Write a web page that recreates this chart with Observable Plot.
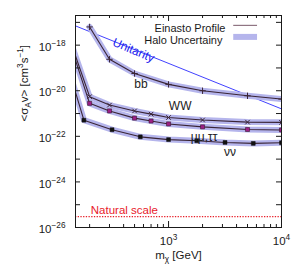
<!DOCTYPE html>
<html><head><meta charset="utf-8">
<script src="https://cdn.jsdelivr.net/npm/d3@7"></script>
<script src="https://cdn.jsdelivr.net/npm/@observablehq/plot@0.6"></script>
<style>html,body{margin:0;padding:0;background:#fff}svg{display:block}</style>
</head><body><div id="chart"></div>
<script>
// ---- data ----
const bbMass = [200, 300, 500, 1000, 2000, 5000, 10000];
const bbSigma = [6.3e-18, 2.4e-19, 5.7e-20, 1.9e-20, 1.0e-20, 6.0e-21, 4.3e-21];
const wwMass = [100, 200, 300, 500, 700, 1000, 2000, 5000, 10000];
const wwSigma = [1.1e-16, 5.5e-21, 2.35e-21, 1.3e-21, 9.4e-22, 6.7e-22, 5.2e-22, 4.2e-22, 4.1e-22];
const mumuMass = [100, 200, 300, 500, 700, 1000, 2000, 5000, 10000];
const mumuSigma = [1.0e-16, 2.8e-21, 1.3e-21, 6.3e-22, 4.7e-22, 3.5e-22, 2.6e-22, 2.0e-22, 1.9e-22];
const nunuMass = [100, 178, 316, 562, 1000, 1778, 3162, 5623, 10000];
const nunuSigma = [7e-18, 5.1e-22, 1.95e-22, 9.5e-23, 7.2e-23, 6.4e-23, 5.4e-23, 4.9e-23, 5.2e-23];
const unitarityMass = [150, 10000];
const unitaritySigma = [7e-18, 1.6e-21];
const naturalSigma = [3e-26];
const channelNames = ["bb", "WW", "mumu", "nunu"];
const yLabelTicks = [1e-18, 1e-20, 1e-22, 1e-24, 1e-26];
const yDecades = [1e-17, 1e-18, 1e-19, 1e-20, 1e-21, 1e-22, 1e-23, 1e-24, 1e-25, 1e-26];
const xLabelTicks = [1000, 10000];
const xMinor = [200, 300, 400, 500, 600, 700, 800, 900, 2000, 3000, 4000, 5000, 6000, 7000, 8000, 9000];
const legendLabels = ["Einasto Profile", "Halo Uncertainy"];

// ---- build tables ----
const massSets = [bbMass, wwMass, mumuMass, nunuMass];
const sigmaSets = [bbSigma, wwSigma, mumuSigma, nunuSigma];
const rows = channelNames.flatMap((ch, k) => massSets[k].map((m, i) => ({ch, m, s: sigmaSets[k][i]})));
const unitRows = unitarityMass.map((m, i) => ({m, s: unitaritySigma[i]}));
const of = ch => rows.filter(r => r.ch === ch);

const W = 299, H = 279;
const mt = 15, mr = 18, mb = 52, ml = 75;
const pw = W - ml - mr, ph = H - mt - mb;
const lineColor = "#3a2535";
const bandColor = "#b5b5ec";
const ink = "#1a1a1a";
const sup = d => "10^{" + String(Math.round(Math.log10(d))).replace("-", "\u2212") + "}";

const plot = Plot.plot({
  width: W, height: H,
  marginTop: mt, marginRight: mr, marginBottom: mb, marginLeft: ml,
  style: {fontFamily: "'Liberation Sans', Arial, sans-serif", fontSize: "11.5px", background: "#fff", color: ink},
  x: {type: "log", domain: [150, 10000]},
  y: {type: "log", domain: [1e-26, 2e-17]},
  marks: [
    Plot.ruleY(naturalSigma, {y: d => d, stroke: "#e8202a", strokeWidth: 1.3, strokeDasharray: "1.3,1.4"}),
    Plot.line(unitRows, {x: "m", y: "s", stroke: "#2b2bff", strokeWidth: 0.9, clip: true}),
    Plot.line(rows, {x: "m", y: "s", z: "ch", stroke: bandColor, strokeWidth: 6, strokeLinejoin: "round", clip: true}),
    Plot.line(rows, {x: "m", y: "s", z: "ch", stroke: lineColor, strokeWidth: 1.1, clip: true}),
    Plot.dot(of("bb"), {x: "m", y: "s", symbol: "plus", r: 2.2, stroke: lineColor, strokeWidth: 1, clip: true}),
    Plot.dot(of("WW"), {x: "m", y: "s", symbol: "times", r: 2.2, stroke: lineColor, strokeWidth: 1, clip: true}),
    Plot.dot(of("mumu"), {x: "m", y: "s", symbol: "square", r: 2.3, fill: "#9c1f86", stroke: "#3a1a30", strokeWidth: 0.6, clip: true}),
    Plot.dot(of("nunu"), {x: "m", y: "s", symbol: "square", r: 2.2, fill: "#111", stroke: "#111", strokeWidth: 0.5, clip: true}),
    // series labels
    Plot.text(["bb"], {x: 569, y: 1.9e-20, text: d => d, fill: "#222", fontSize: 12}),
    Plot.text(["WW"], {x: 1268, y: 2.2e-21, text: d => d, fill: "#222", fontSize: 12}),
    Plot.text(["\u03bc\u03bc,\u03c4\u03c4"], {x: 2066, y: 9.5e-23, text: d => d, fill: "#222", fontSize: 12}),
    Plot.text(["\u03bd\u03bd"], {x: 3500, y: 2.0e-23, text: d => d, fill: "#222", fontSize: 12}),
    Plot.text(["Unitarity"], {x: 489, y: 6e-19, text: d => d, fill: "#2222ee", fontSize: 12, rotate: 23}),
    Plot.text(["Natural scale"], {x: 406, y: 5.6e-26, text: d => d, fill: "#e8202a", fontSize: 11.5}),
    // legend
    Plot.text([legendLabels[0]], {frameAnchor: "top-right", dx: -56, dy: 9, textAnchor: "end", text: d => d, fill: ink, fontSize: 11}),
    Plot.text([legendLabels[1]], {frameAnchor: "top-right", dx: -59, dy: 20.7, textAnchor: "end", text: d => d, fill: ink, fontSize: 11}),
    Plot.ruleY([7.4e-18], {y: d => d, x1: 3776, x2: 6136, stroke: "#7a5a6a", strokeWidth: 1}),
    Plot.ruleY([2.3e-18], {y: d => d, x1: 3776, x2: 6136, stroke: bandColor, strokeWidth: 6}),
    // inward ticks
    Plot.tickY(yDecades, {y: d => d, insetRight: pw - 5, stroke: ink}),
    Plot.tickY(yDecades, {y: d => d, insetLeft: pw - 5, stroke: ink}),
    Plot.tickX(xMinor, {x: d => d, insetTop: ph - 3, stroke: ink}),
    Plot.tickX(xMinor, {x: d => d, insetBottom: ph - 3, stroke: ink}),
    Plot.tickX(xLabelTicks, {x: d => d, insetTop: ph - 6, stroke: ink}),
    Plot.tickX(xLabelTicks, {x: d => d, insetBottom: ph - 6, stroke: ink}),
    Plot.frame({stroke: ink, strokeWidth: 1}),
    Plot.axisY({ticks: yLabelTicks, tickSize: 0, tickPadding: 10, tickFormat: sup, label: null, fontSize: 11.5, dy: 2}),
    Plot.axisX({ticks: xLabelTicks, tickSize: 0, tickPadding: 9, tickFormat: sup, label: null, fontSize: 11.5}),
    Plot.text(["m_{\u03c7} [GeV]"], {frameAnchor: "bottom", dy: 31, text: d => d, fill: ink, fontSize: 11.5}),
    Plot.text(["<\u03c3_{A}v> [cm^{3}s^{\u22121}]"], {frameAnchor: "left", dx: -51, rotate: -90, text: d => d, fill: ink, fontSize: 11.5})
  ]
});

// render ^{...} and _{...} as super/subscripts
function richify(svg) {
  d3.select(svg).selectAll("text").each(function() {
    const s = this.textContent;
    if (!/[\^_]\{/.test(s)) return;
    const fs = parseFloat(this.getAttribute("font-size")) || parseFloat(getComputedStyle(this).fontSize) || 11.5;
    const parts = [];
    const re = /([\^_])\{([^}]*)\}/g;
    let last = 0, mm;
    while ((mm = re.exec(s))) {
      if (mm.index > last) parts.push({t: s.slice(last, mm.index), k: ""});
      parts.push({t: mm[2], k: mm[1]});
      last = re.lastIndex;
    }
    if (last < s.length) parts.push({t: s.slice(last), k: ""});
    const el = d3.select(this);
    el.selectAll("*").remove();
    el.text(null);
    let shift = 0;
    for (const p of parts) {
      const target = p.k === "^" ? -0.42 * fs : p.k === "_" ? 0.28 * fs : 0;
      const ts = el.append("tspan").text(p.t);
      if (target !== shift) ts.attr("dy", target - shift);
      if (p.k) ts.attr("font-size", fs * 0.72);
      shift = target;
    }
  });
}
richify(plot);
document.getElementById("chart").append(plot);
</script>
</body></html>
